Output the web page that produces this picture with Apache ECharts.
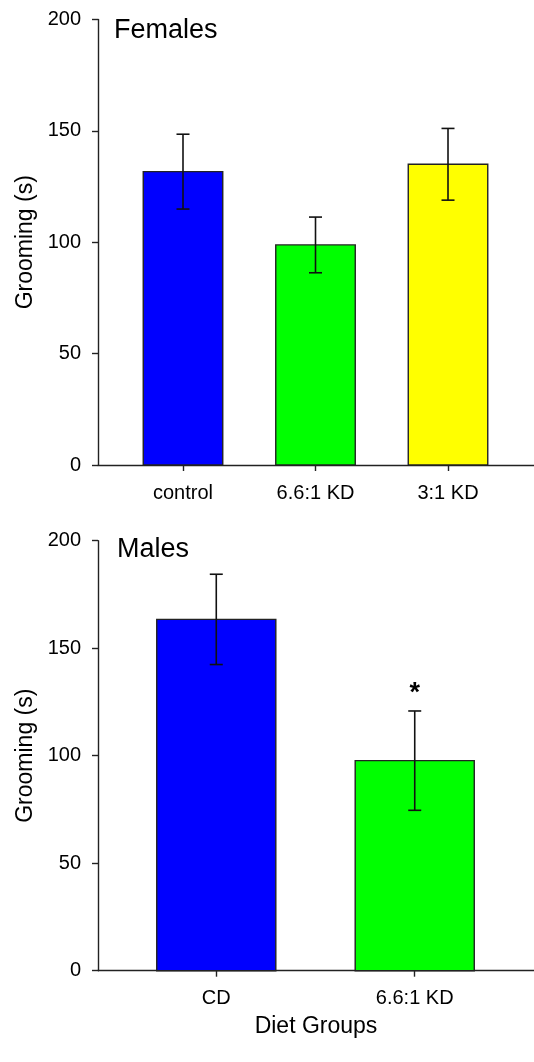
<!DOCTYPE html>
<html>
<head>
<meta charset="utf-8">
<script src="https://cdn.jsdelivr.net/npm/echarts@6/dist/echarts.min.js"></script>
<style>
html,body{margin:0;padding:0;background:#fff;}
#chart{width:534px;height:1062px;}
</style>
</head>
<body>
<div id="chart"></div>
<script>
// ---- data ----
const femaleCategories = ['control', '6.6:1 KD', '3:1 KD'];
const femaleMeans = [131.7, 98.8, 135.0];
const femaleErrors = [16.8, 12.5, 16.1];
const femaleColors = ['#0000ff', '#00ff00', '#ffff00'];

const maleCategories = ['CD', '6.6:1 KD'];
const maleMeans = [163.4, 97.7];
const maleErrors = [21.0, 23.1];
const maleColors = ['#0000ff', '#00ff00'];
const maleMarks = ['', '*'];

const yTickValues = [0, 50, 100, 150, 200];
const panelTitles = ['Females', 'Males'];
const yAxisTitle = 'Grooming (s)';
const xAxisTitle = 'Diet Groups';

// ---- chart ----
const FONT = 'Liberation Sans, Arial, Helvetica, sans-serif';
const chart = echarts.init(document.getElementById('chart'), null, {renderer: 'canvas'});

function makeRender(colors, marks) {
  return function (params, api) {
    const i = api.value(0), v = api.value(1), e = api.value(2);
    const top = api.coord([i, v]);
    const base = api.coord([i, 0]);
    const w = api.size([0.6, 0])[0];
    const hi = api.coord([i, v + e]);
    const lo = api.coord([i, v - e]);
    const cap = 6.5;
    const lineStyle = {stroke: '#111', lineWidth: 1.6};
    const children = [
      {type: 'rect', shape: {x: top[0] - w / 2, y: top[1], width: w, height: base[1] - top[1]},
       style: {fill: colors[i], stroke: '#222', lineWidth: 1.4}},
      {type: 'line', shape: {x1: hi[0], y1: hi[1], x2: lo[0], y2: lo[1]}, style: lineStyle},
      {type: 'line', shape: {x1: hi[0] - cap, y1: hi[1], x2: hi[0] + cap, y2: hi[1]}, style: lineStyle},
      {type: 'line', shape: {x1: lo[0] - cap, y1: lo[1], x2: lo[0] + cap, y2: lo[1]}, style: lineStyle}
    ];
    if (marks && marks[i]) {
      children.push({type: 'text', x: hi[0], y: hi[1] - 17,
        style: {text: marks[i], font: 'bold 27px ' + FONT, fill: '#000', align: 'center', verticalAlign: 'middle'}});
    }
    return {type: 'group', children: children};
  };
}

function yAxisCfg(gi) {
  return {
    gridIndex: gi, type: 'value', min: 0, max: 200, interval: 50,
    name: yAxisTitle, nameLocation: 'middle', nameGap: 60, nameRotate: 90,
    nameTextStyle: {fontFamily: FONT, fontSize: 23, color: '#000'},
    axisLine: {show: true, onZero: false, lineStyle: {color: '#222', width: 1.4}},
    axisTick: {show: true, length: 6, lineStyle: {color: '#222', width: 1.4}},
    axisLabel: {fontFamily: FONT, fontSize: 20, color: '#000', margin: 17,
      customValues: yTickValues},
    splitLine: {show: false}
  };
}

function xAxisCfg(gi, cats, min, max, name) {
  return {
    gridIndex: gi, type: 'value', min: min, max: max,
    name: name || '', nameLocation: 'middle', nameGap: 44,
    nameTextStyle: {fontFamily: FONT, fontSize: 23, color: '#000'},
    axisLine: {show: true, onZero: false, lineStyle: {color: '#222', width: 1.4}},
    axisTick: {show: true, length: 6, customValues: cats.map((c, k) => k), lineStyle: {color: '#222', width: 1.4}},
    axisLabel: {fontFamily: FONT, fontSize: 20, color: '#000', margin: 18,
      customValues: cats.map((c, k) => k),
      formatter: function (v) { return cats[Math.round(v)]; }},
    splitLine: {show: false}
  };
}

const option = {
  animation: false,
  backgroundColor: '#fff',
  title: [
    {text: panelTitles[0], left: 114, top: 17, padding: 0, textStyle: {fontFamily: FONT, fontSize: 27, fontWeight: 'normal', color: '#000'}},
    {text: panelTitles[1], left: 117, top: 536, padding: 0, textStyle: {fontFamily: FONT, fontSize: 27, fontWeight: 'normal', color: '#000'}}
  ],
  grid: [
    {left: 98, right: 0, top: 19.5, height: 445.5},
    {left: 98, right: 0, top: 540.7, height: 430}
  ],
  xAxis: [
    xAxisCfg(0, femaleCategories, -0.6415, 2.649),
    xAxisCfg(1, maleCategories, -0.596, 1.601, xAxisTitle)
  ],
  yAxis: [yAxisCfg(0), yAxisCfg(1)],
  series: [
    {type: 'custom', xAxisIndex: 0, yAxisIndex: 0, renderItem: makeRender(femaleColors, null),
     data: femaleMeans.map((m, k) => [k, m, femaleErrors[k]])},
    {type: 'custom', xAxisIndex: 1, yAxisIndex: 1, renderItem: makeRender(maleColors, maleMarks),
     data: maleMeans.map((m, k) => [k, m, maleErrors[k]])}
  ]
};
chart.setOption(option);
</script>
</body>
</html>
